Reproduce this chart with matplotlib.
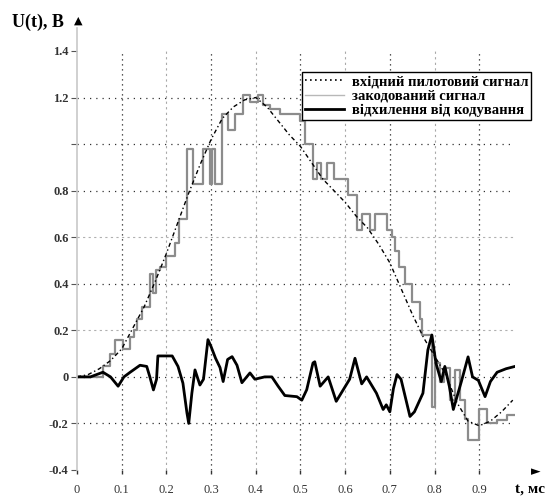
import matplotlib
matplotlib.use("Agg")
import matplotlib.pyplot as plt
from matplotlib.lines import Line2D

# ---------------- data ----------------
# input (sawtooth-like) signal
t_in = [0.0, 0.025, 0.05, 0.075, 0.1, 0.125, 0.15, 0.175, 0.2, 0.225, 0.25, 0.275,
        0.3, 0.325, 0.35, 0.375, 0.4, 0.425, 0.45, 0.475, 0.5, 0.525, 0.55, 0.575,
        0.6, 0.625, 0.65, 0.675, 0.7, 0.725, 0.75, 0.775, 0.8, 0.825, 0.85, 0.875,
        0.9, 0.925, 0.95, 0.975]
u_in = [0.0, 0.01, 0.035, 0.07, 0.12, 0.21, 0.30, 0.41, 0.53, 0.66, 0.79, 0.91,
        1.02, 1.11, 1.16, 1.19, 1.20, 1.16, 1.10, 1.04, 0.99, 0.92, 0.85, 0.80,
        0.75, 0.69, 0.64, 0.57, 0.49, 0.38, 0.27, 0.17, 0.09, 0.01, -0.11, -0.19,
        -0.21, -0.19, -0.15, -0.10]

# encoded (quantized) signal, step starts
t_enc = [0.0, 0.058, 0.074, 0.085, 0.103, 0.119, 0.128, 0.135, 0.145, 0.163, 0.170,
         0.176, 0.186, 0.200, 0.219, 0.228, 0.246, 0.260, 0.282, 0.297, 0.303, 0.309,
         0.325, 0.338, 0.353, 0.372, 0.387, 0.405, 0.416, 0.432, 0.454, 0.500, 0.510,
         0.528, 0.536, 0.545, 0.560, 0.575, 0.588, 0.606, 0.626, 0.637, 0.655, 0.667,
         0.693, 0.705, 0.712, 0.720, 0.734, 0.749, 0.767, 0.771, 0.794, 0.802, 0.812,
         0.822, 0.835, 0.845, 0.857, 0.868, 0.875, 0.900, 0.917, 0.940, 0.962, 0.980]
u_enc = [0.0, 0.045, 0.10, 0.16, 0.12, 0.17, 0.20, 0.25, 0.30, 0.44, 0.36,
         0.46, 0.47, 0.52, 0.575, 0.68, 0.98, 0.83, 0.98, 0.83, 0.98, 0.83,
         1.13, 1.06, 1.13, 1.21, 1.18, 1.21, 1.17, 1.15, 1.13, 1.10, 1.00,
         0.85, 0.92, 0.85, 0.92, 0.85, 0.85, 0.78, 0.63, 0.70, 0.63, 0.70,
         0.63, 0.60, 0.54, 0.47, 0.40, 0.32, 0.25, 0.18, -0.13, 0.06, -0.02,
         0.04, -0.10, 0.03, -0.10, -0.18, -0.27, -0.14, -0.20, -0.185, -0.163, -0.163]

# deviation from coding
t_dev = [0.0, 0.03, 0.058, 0.075, 0.092, 0.105, 0.119, 0.141, 0.156, 0.163, 0.171,
         0.178, 0.181, 0.213, 0.226, 0.237, 0.246, 0.250, 0.257, 0.264, 0.275, 0.283,
         0.293, 0.300, 0.310, 0.320, 0.327, 0.337, 0.347, 0.358, 0.369, 0.387, 0.398,
         0.420, 0.436, 0.450, 0.465, 0.492, 0.503, 0.514, 0.528, 0.532, 0.544, 0.562,
         0.580, 0.610, 0.622, 0.637, 0.648, 0.670, 0.685, 0.692, 0.700, 0.708, 0.716,
         0.725, 0.745, 0.755, 0.774, 0.785, 0.794, 0.803, 0.815, 0.823, 0.833, 0.842,
         0.860, 0.875, 0.885, 0.898, 0.913, 0.925, 0.940, 0.960, 0.980]
u_dev = [0.0, 0.0, 0.02, 0.0, -0.04, 0.0, 0.02, 0.05, 0.045, 0.0, -0.056,
         -0.01, 0.09, 0.09, 0.045, -0.027, -0.155, -0.2, -0.07, 0.03, -0.035, -0.01,
         0.16, 0.13, 0.08, 0.04, -0.02, 0.075, 0.087, 0.05, -0.025, 0.017, -0.01,
         0.0, 0.0, -0.04, -0.08, -0.085, -0.10, -0.055, 0.06, 0.065, -0.04, 0.0,
         -0.105, -0.01, 0.08, -0.03, 0.0, -0.07, -0.14, -0.12, -0.15, -0.05, 0.01,
         -0.01, -0.17, -0.15, -0.07, 0.115, 0.18, 0.06, -0.02, 0.045, -0.04, -0.14,
         -0.02, 0.086, 0.0, -0.015, -0.085, -0.02, 0.02, 0.035, 0.045]

x_ticks = [0, 0.1, 0.2, 0.3, 0.4, 0.5, 0.6, 0.7, 0.8, 0.9]
x_ticklabels = ["0", "0.1", "0.2", "0.3", "0.4", "0.5", "0.6", "0.7", "0.8", "0.9"]
y_ticks = [-0.4, -0.2, 0, 0.2, 0.4, 0.6, 0.8, 1.0, 1.2, 1.4]
y_ticklabels = ["-0.4", "-0.2", "0", "0.2", "0.4", "0.6", "0.8", "", "1.2", "1.4"]
legend_labels = ["вхідний пилотовий сигнал", "закодований сигнал", "відхилення від кодування"]

# ---------------- figure ----------------
W, H = 547, 500
fig = plt.figure(figsize=(W / 100, H / 100), dpi=100)
L, R, B, T = 77, 515, 470, 51
ax = fig.add_axes([L / W, 1 - B / H, (R - L) / W, (B - T) / H])
ax.set_xlim(0, 0.98)
ax.set_ylim(-0.4, 1.4)

serif = "Liberation Serif"

# grid
dark_v = [0.1, 0.3, 0.5, 0.7, 0.9]
light_v = [0.2, 0.4, 0.6, 0.8]
for xv in dark_v:
    ax.axvline(xv, color="#222222", ls=(0, (1, 3)), lw=0.9, zorder=0)
for xv in light_v:
    ax.axvline(xv, color="#a8a8a8", ls=(0, (2, 3)), lw=0.8, zorder=0)
dark_h = [1.2, 1.0, 0.8, 0.4, 0.0, -0.2]
light_h = [0.6, 0.2]
for yv in dark_h:
    ax.axhline(yv, color="#333333", ls=(0, (1, 4)), lw=0.9, zorder=0)
for yv in light_h:
    ax.axhline(yv, color="#b0b0b0", ls=(0, (2, 3)), lw=0.8, zorder=0)

# series
l_enc, = ax.plot(t_enc, u_enc, drawstyle="steps-post", color="#8c8c8c", lw=1.6, zorder=2)
l_in, = ax.plot(t_in, u_in, color="black", ls=(0, (3, 2, 1, 2)), lw=1.0, zorder=3)
l_dev, = ax.plot(t_dev, u_dev, color="black", lw=2.0, zorder=4)

# axes styling
for s in ["top", "right", "bottom", "left"]:
    ax.spines[s].set_visible(False)
ax.set_xticks(x_ticks)
ax.set_xticklabels(x_ticklabels, fontfamily=serif, fontsize=9, color="#333333")
ax.set_yticks(y_ticks)
ax.set_yticklabels(y_ticklabels, fontfamily=serif, fontsize=9, color="#333333",
                   fontweight="bold")
ax.tick_params(axis="x", length=3, width=1, color="#333333", pad=7)
ax.tick_params(axis="y", length=4, width=0.8, color="#555555", pad=2)

# left axis line with arrow
fig.add_artist(Line2D([L / W, L / W], [1 - B / H, 1 - 28 / H], color="#c8c8c8", lw=1.2))
fig.text(78 / W, 1 - 21 / H, "▲", fontsize=8, ha="center", va="center",
         family="DejaVu Sans", color="black")
fig.text(12 / W, 1 - 22 / H, "U(t), B", fontsize=13, fontweight="bold",
         family=serif, ha="left", va="center")

# x axis arrow and label
fig.text(536 / W, 1 - 472 / H, "►", fontsize=9, ha="center", va="center",
         family="DejaVu Sans", color="black")
fig.text(530 / W, 1 - 489 / H, "t, мс", fontsize=11, fontweight="bold",
         family=serif, ha="center", va="center")

# legend
handles = [Line2D([], [], color="black", ls=(0, (1, 2)), lw=1.2),
           Line2D([], [], color="#b8b8b8", lw=1.0),
           Line2D([], [], color="black", lw=2.0)]
leg = fig.legend(handles, legend_labels, loc="upper left",
                 bbox_to_anchor=(302 / W, 1 - 72 / H), frameon=True, fancybox=False,
                 edgecolor="black", framealpha=1, borderpad=0.2, labelspacing=0.1,
                 handlelength=2.7, handletextpad=0.5, borderaxespad=0,
                 prop={"family": serif, "size": 10.5, "weight": "bold"})
leg.get_frame().set_linewidth(1.0)

fig.savefig("out.png", dpi=100)
